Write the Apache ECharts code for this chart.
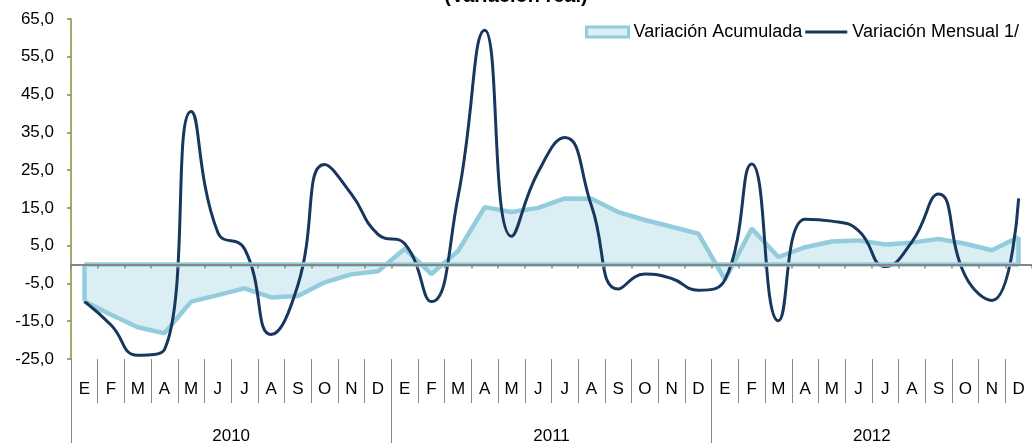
<!DOCTYPE html>
<html>
<head>
<meta charset="utf-8">
<script src="https://cdn.jsdelivr.net/npm/echarts@6/dist/echarts.min.js"></script>
<style>
  html, body { margin: 0; padding: 0; background: #fff; }
  #main { width: 1032px; height: 445px; }
</style>
</head>
<body>
<div id="main"></div>
<script>
// meses y años
var meses = ['E','F','M','A','M','J','J','A','S','O','N','D',
             'E','F','M','A','M','J','J','A','S','O','N','D',
             'E','F','M','A','M','J','J','A','S','O','N','D'];
var anios = ['2010', '2011', '2012'];

// Variación Acumulada
var acumulada = [-9.7, -13.3, -16.6, -18.2, -9.8, -8.1, -6.3, -8.7, -8.3, -4.7, -2.6, -1.8,
                 4.2, -2.5, 3.6, 15.2, 13.9, 15.0, 17.5, 17.4, 13.9, 11.8, 10.0, 8.2,
                 -4.0, 9.5, 2.0, 4.6, 6.1, 6.4, 5.3, 5.8, 6.8, 5.5, 3.8, 7.3];

// Variación Mensual 1/
var mensual = [-9.7, -16.0, -24.0, -22.5, 40.5, 8.5, 4.2, -18.5, -5.4, 26.5, 18.7, 8.0,
               5.5, -9.8, 18.0, 62.0, 7.5, 24.5, 33.6, 15.5, -6.5, -2.5, -3.7, -6.8,
               -4.0, 26.6, -14.9, 12.0, 11.5, 9.0, -0.5, 6.0, 18.7, -3.0, -9.5, 17.5];

var yTicks = { min: -25, max: 65, interval: 10 };

var chart = echarts.init(document.getElementById('main'));

var azulClaro = '#93CDDD';
var azulOscuro = '#17375E';
var gris = '#868686';
var n = acumulada.length - 1;

var option = {
    animation: false,
    textStyle: { fontFamily: 'Liberation Sans, Arial, sans-serif' },
    title: {
        text: '(Variación real)',
        left: 'center',
        top: -19,
        textStyle: { fontSize: 20, fontWeight: 'bold', color: '#000' }
    },
    legend: {
        left: 580,
        top: 18,
        itemWidth: 42,
        itemHeight: 10,
        itemGap: 3,
        textStyle: { fontSize: 18, color: '#000' },
        data: [
            { name: 'Variación Acumulada', icon: 'rect',
              itemStyle: { color: '#DAEEF3', borderColor: azulClaro, borderWidth: 3 } },
            { name: 'Variación Mensual 1/', icon: 'path://M0,0 L42,0 L42,3 L0,3 Z',
              itemStyle: { color: azulOscuro } }
        ]
    },
    grid: { left: 71, top: 19, width: 962, height: 342 },
    xAxis: [
        {   // meses
            type: 'category',
            data: meses,
            position: 'bottom',
            axisLine: { show: false, onZero: false },
            axisTick: { show: true, length: 44, interval: 0, lineStyle: { color: gris, width: 1 } },
            axisLabel: { interval: 0, margin: 22, fontSize: 17, color: '#000' }
        },
        {   // años
            type: 'category',
            data: anios,
            position: 'bottom',
            axisLine: { show: false, onZero: false },
            axisTick: { show: true, length: 84, lineStyle: { color: gris, width: 1 } },
            axisLabel: { margin: 69, fontSize: 17, color: '#000' }
        },
        {   // eje en cero
            type: 'category',
            data: meses,
            position: 'bottom',
            z: 10,
            axisLine: { show: true, onZero: true, lineStyle: { color: gris, width: 2 } },
            axisTick: { show: true, length: 4, interval: 0, lineStyle: { color: gris, width: 1.5 } },
            axisLabel: { show: false }
        }
    ],
    yAxis: {
        type: 'value',
        min: yTicks.min,
        max: yTicks.max,
        interval: yTicks.interval,
        axisLine: { show: true, lineStyle: { color: '#77933C', width: 1.5 } },
        axisTick: { show: true, length: 4, lineStyle: { color: '#77933C', width: 1.5 } },
        splitLine: { show: false },
        axisLabel: {
            fontSize: 17, color: '#000', margin: 17,
            formatter: function (v) { return v.toFixed(1).replace('.', ','); }
        }
    },
    series: [
        {
            name: 'Variación Acumulada',
            type: 'line',
            xAxisIndex: 0,
            data: acumulada,
            symbol: 'none',
            lineStyle: { color: azulClaro, width: 4.5 },
            itemStyle: { color: '#DAEEF3', borderColor: azulClaro, borderWidth: 3 },
            areaStyle: { color: '#DAEEF3', opacity: 1 },
            z: 2,
            markLine: {
                silent: true,
                symbol: 'none',
                label: { show: false },
                lineStyle: { color: azulClaro, width: 4.5, type: 'solid' },
                data: [
                    [{ coord: [0, 0] }, { coord: [0, acumulada[0]] }],
                    [{ coord: [n, 0] }, { coord: [n, acumulada[n]] }],
                    [{ coord: [0, 0] }, { coord: [n, 0] }]
                ]
            }
        },
        {
            name: 'Variación Mensual 1/',
            type: 'line',
            xAxisIndex: 0,
            data: mensual,
            symbol: 'none',
            smooth: 0.5,
            lineStyle: { color: azulOscuro, width: 3 },
            itemStyle: { color: azulOscuro },
            z: 4
        }
    ]
};

chart.setOption(option);
</script>
</body>
</html>
